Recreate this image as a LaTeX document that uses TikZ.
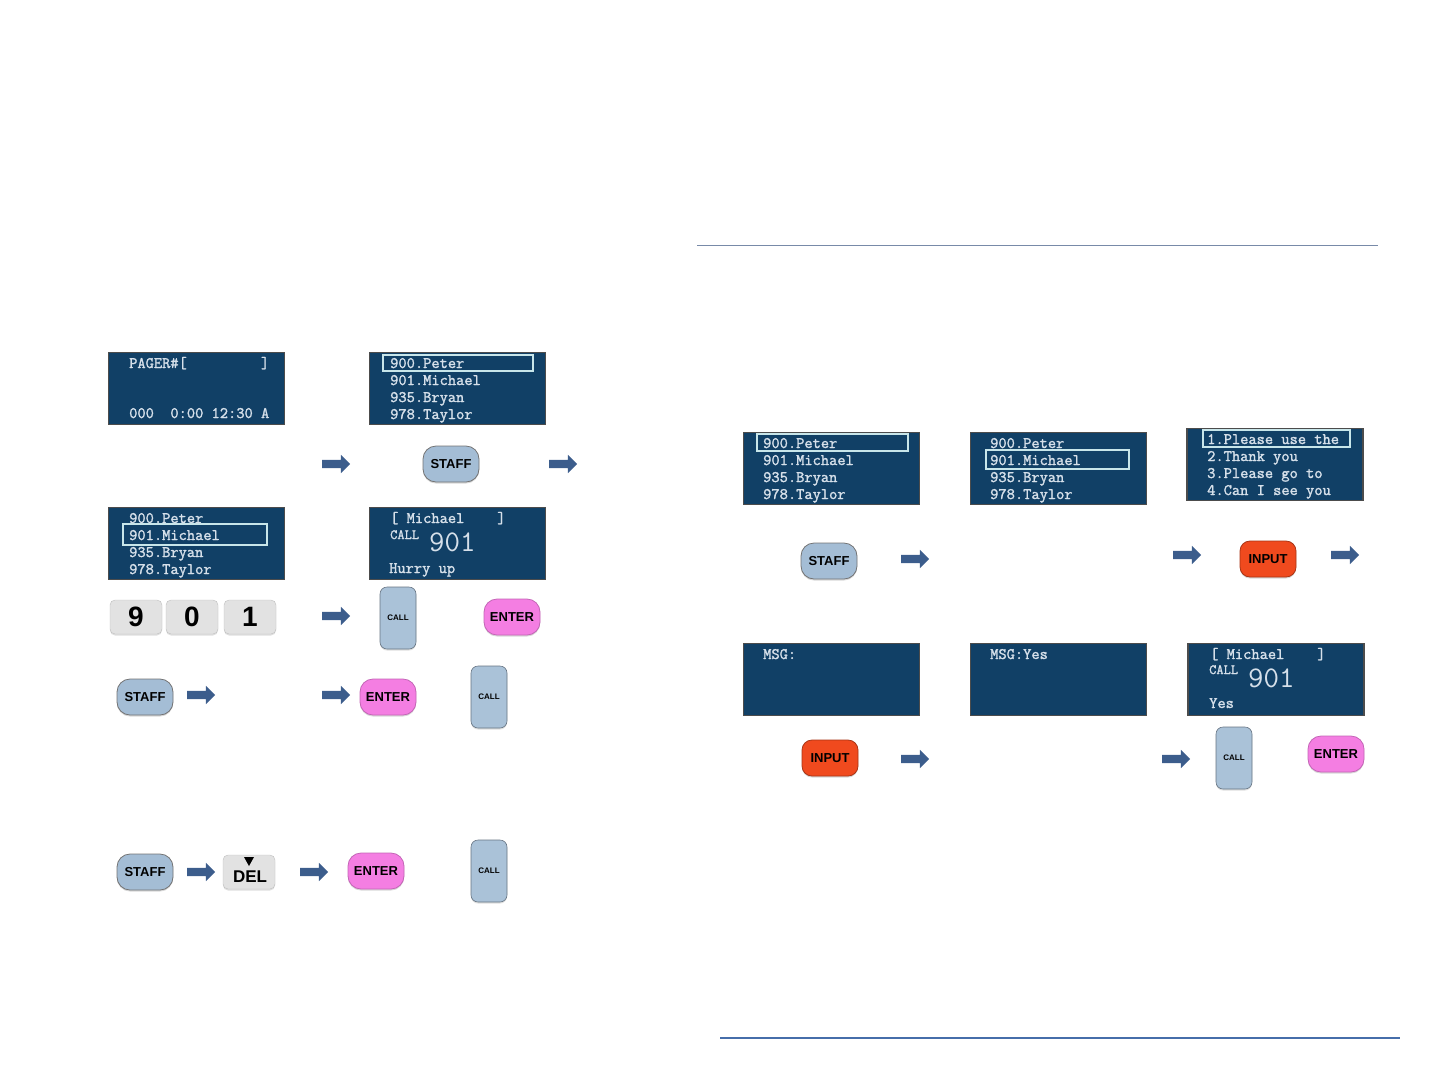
\documentclass[tikz,border=0pt]{standalone}
\usepackage{fontspec}
\setsansfont{Liberation Sans}
\newfontfamily\lcdfont[FakeBold=1.6]{Latin Modern Mono}
\newfontfamily\lcdthin{Latin Modern Mono}
\usetikzlibrary{shapes.arrows,shadows}

\definecolor{lcdblue}{RGB}{17,64,102}
\definecolor{lcdtext}{RGB}{214,224,234}
\definecolor{hlline}{RGB}{200,230,234}
\definecolor{staffblue}{RGB}{164,189,213}
\definecolor{callblue}{RGB}{170,194,216}
\definecolor{enterpink}{RGB}{244,126,226}
\definecolor{inputred}{RGB}{240,74,30}
\definecolor{arrowblue}{RGB}{60,93,140}
\definecolor{keygray}{RGB}{226,226,226}

\begin{document}
\begin{tikzpicture}[x=1pt, y=-1pt, every node/.style={inner sep=0pt},
  lcd/.style={draw=black!70, line width=1.5pt, fill=lcdblue, minimum width=176pt, minimum height=72pt},
  lcdtxt/.style={text=lcdtext, anchor=base west, font=\fontsize{16}{17}\selectfont\lcdfont},
  lcdsmall/.style={text=lcdtext, anchor=base west, font=\fontsize{14}{14}\selectfont\lcdfont},
  lcdbig/.style={text=lcdtext, anchor=base west, font=\fontsize{30}{30}\selectfont\lcdthin},
  hl/.style={draw=hlline, line width=1.4pt},
  btn/.style={draw=black!55, line width=0.8pt, rounded corners=13pt, minimum width=56pt, minimum height=36pt, font=\fontsize{13}{13}\selectfont\sffamily\bfseries, drop shadow={shadow xshift=0pt, shadow yshift=-1.5pt, fill=black!30}},
  staff/.style={btn, fill=staffblue},
  enter/.style={btn, fill=enterpink, draw=enterpink!80!black},
  input/.style={btn, fill=inputred, rounded corners=10pt, draw=inputred!70!black},
  callkey/.style={draw=callblue!60!black, line width=0.6pt, fill=callblue, rounded corners=7pt, minimum width=36pt, minimum height=62pt, font=\fontsize{8}{8}\selectfont\sffamily\bfseries, drop shadow={shadow xshift=0pt, shadow yshift=-1.5pt, fill=black!25}},
  numkey/.style={draw=black!25, fill=keygray, rounded corners=5pt, minimum width=52pt, minimum height=34pt, font=\fontsize{28}{28}\selectfont\sffamily\bfseries, drop shadow={shadow xshift=0pt, shadow yshift=-1.5pt, fill=black!25}},
  sarr/.style={single arrow, fill=arrowblue, minimum height=28pt, minimum width=18pt, single arrow head extend=5pt, inner sep=4pt}]
  \useasboundingbox (0,0) rectangle (1440,1080);

  % page rules
  \coordinate (topA) at (697,245); \coordinate (topB) at (1378,245);
  \coordinate (botA) at (720,1038); \coordinate (botB) at (1400,1038);
  \draw[color={rgb,255:red,120;green,138;blue,168}, line width=0.8pt] (topA) -- (topB);
  \draw[color={rgb,255:red,70;green,110;blue,170}, line width=1.5pt] (botA) -- (botB);

  % left screens
  \node[lcd] (l1) at (196.5,388.5) {};
  \node[lcdtxt] (l1a) at (129,368) {PAGER\#[~~~~~~~~~]};
  \node[lcdtxt] (l1b) at (129,418) {000~~0:00~12:30~A};

  \node[lcd] (l2) at (457.5,388.5) {};
  \draw[hl] (383,355) rectangle (533,371);
  \foreach \t [count=\k] in {900.Peter,901.Michael,935.Bryan,978.Taylor}
    {\node[lcdtxt] (l2t\k) at (390,{351+17*\k}) {\t};}

  \node[lcd] (l3) at (196.5,543.5) {};
  \draw[hl] (123,524) rectangle (267,545);
  \foreach \t [count=\k] in {900.Peter,901.Michael,935.Bryan,978.Taylor}
    {\node[lcdtxt] (l3t\k) at (129,{506+17*\k}) {\t};}

  \node[lcd] (l4) at (457.5,543.5) {};
  \node[lcdtxt] (l4a) at (390,523) {[~Michael~~~~]};
  \node[lcdsmall] (l4b) at (390,539) {CALL};
  \node[lcdbig] (l4c) at (429,551) {901};
  \node[lcdtxt] (l4d) at (389,573) {Hurry~up};

  % left keys
  \node[sarr] (la1) at (334,464) {};
  \node[staff] (ls1) at (451,464) {STAFF};
  \node[sarr] (la2) at (561,464) {};

  \foreach \d/\x in {9/136, 0/192, 1/250}
    {\node[numkey] (key\d) at (\x,617) {\d};}
  \node[sarr] (la3) at (334,616) {};
  \node[callkey] (lc1) at (398,618) {CALL};
  \node[enter] (le1) at (512,617) {ENTER};

  \node[staff] (ls2) at (145,697) {STAFF};
  \node[sarr] (la4) at (199,695) {};
  \node[sarr] (la5) at (334,695) {};
  \node[enter] (le2) at (388,697) {ENTER};
  \node[callkey] (lc2) at (489,697) {CALL};

  \node[staff] (ls3) at (145,872) {STAFF};
  \node[sarr] (la6) at (199,872) {};
  \node[numkey] (del) at (249,872) {};
  \fill (del.center) ++(-5,-15) -- ++(10,0) -- ++(-5,9) -- cycle;
  \node[font=\fontsize{17}{17}\selectfont\sffamily\bfseries] (deltxt) at (250,877) {DEL};
  \node[sarr] (la7) at (312,872) {};
  \node[enter] (le3) at (376,871) {ENTER};
  \node[callkey] (lc3) at (489,871) {CALL};

  % right screens
  \node[lcd] (r1) at (831.5,468.5) {};
  \draw[hl] (757,434) rectangle (908,451);
  \foreach \t [count=\k] in {900.Peter,901.Michael,935.Bryan,978.Taylor}
    {\node[lcdtxt] (r1t\k) at (763,{431+17*\k}) {\t};}

  \node[lcd] (r2) at (1058.5,468.5) {};
  \draw[hl] (986,450) rectangle (1129,469);
  \foreach \t [count=\k] in {900.Peter,901.Michael,935.Bryan,978.Taylor}
    {\node[lcdtxt] (r2t\k) at (990,{431+17*\k}) {\t};}

  \node[lcd] (r3) at (1275,464.5) {};
  \draw[hl] (1203,430) rectangle (1350,447);
  \foreach \t [count=\k] in {1.Please~use~the,2.Thank~you,3.Please~go~to,4.Can~I~see~you}
    {\node[lcdtxt] (r3t\k) at (1207,{427+17*\k}) {\t};}

  \node[staff] (rs1) at (829,561) {STAFF};
  \node[sarr] (ra1) at (913,559) {};
  \node[sarr] (ra2) at (1185,555) {};
  \node[input] (ri1) at (1268,559) {INPUT};
  \node[sarr] (ra3) at (1343,555) {};

  \node[lcd] (r4) at (831.5,679.5) {};
  \node[lcdtxt] (r4a) at (763,659) {MSG:};
  \node[lcd] (r5) at (1058.5,679.5) {};
  \node[lcdtxt] (r5a) at (990,659) {MSG:Yes};
  \node[lcd] (r6) at (1276,679.5) {};
  \node[lcdtxt] (r6a) at (1210,659) {[~Michael~~~~]};
  \node[lcdsmall] (r6b) at (1209,674) {CALL};
  \node[lcdbig] (r6c) at (1248,687) {901};
  \node[lcdtxt] (r6d) at (1209,708) {Yes};

  \node[input] (ri2) at (830,758) {INPUT};
  \node[sarr] (ra4) at (913,759) {};
  \node[sarr] (ra5) at (1174,759) {};
  \node[callkey] (rc1) at (1234,758) {CALL};
  \node[enter] (re1) at (1336,754) {ENTER};
\end{tikzpicture}
\end{document}
